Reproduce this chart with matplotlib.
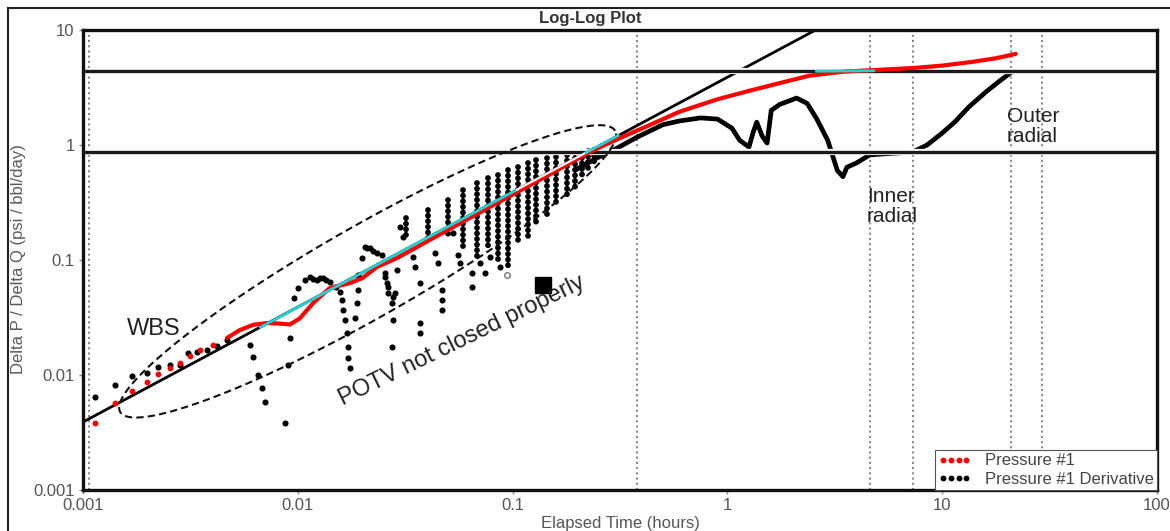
import matplotlib
matplotlib.use("Agg")
import matplotlib.pyplot as plt
import matplotlib.patheffects as pe
from matplotlib.lines import Line2D
import numpy as np

plt.rcParams['font.family'] = ['Liberation Sans', 'DejaVu Sans']

# ---------------- data ----------------
x_ticks = [0.001, 0.01, 0.1, 1, 10, 100]
x_tick_labels = ["0.001", "0.01", "0.1", "1", "10", "100"]
y_ticks = [0.001, 0.01, 0.1, 1, 10]
y_tick_labels = ["0.001", "0.01", "0.1", "1", "10"]

# Pressure #1 (red)
red_x = [0.00114, 0.00141, 0.00169, 0.00199, 0.00223, 0.00254, 0.00283, 0.00315, 0.00351, 0.00402,
         0.00468, 0.00538, 0.0062, 0.0072, 0.0082, 0.0092, 0.0102, 0.0118, 0.0141, 0.0175,
         0.020, 0.0234, 0.029, 0.04, 0.06, 0.1, 0.15, 0.229, 0.3, 0.42,
         0.6, 0.9, 1.3, 1.75, 2.4, 3.5, 5.0, 7.3, 10, 14, 18, 22]
red_y = [0.0038, 0.0057, 0.0073, 0.0087, 0.0102, 0.0115, 0.0127, 0.0145, 0.0165, 0.0182,
         0.021, 0.0246, 0.0273, 0.0283, 0.0280, 0.0275, 0.031, 0.0423, 0.0571, 0.063,
         0.0697, 0.087, 0.104, 0.145, 0.22, 0.37, 0.56, 0.87, 1.1, 1.45,
         1.95, 2.5, 3.0, 3.45, 4.0, 4.35, 4.5, 4.67, 4.9, 5.3, 5.7, 6.2]

# Pressure #1 Derivative - scattered early points
dpt_x = [0.00114, 0.00141, 0.00169, 0.00199, 0.00223, 0.00254, 0.00283, 0.00308, 0.0034, 0.00378,
         0.0042, 0.00468, 0.00599, 0.00619, 0.00653, 0.00681, 0.00703, 0.00872, 0.0090, 0.0092,
         0.0096, 0.0100, 0.0108, 0.0114, 0.0118, 0.0123, 0.0127, 0.0131, 0.0136, 0.0141,
         0.0150, 0.0157, 0.0161, 0.0162, 0.0166, 0.0169, 0.0171, 0.0171, 0.0175, 0.0191,
         0.0191, 0.0189, 0.0185, 0.0199, 0.0206, 0.0211, 0.0217, 0.0225, 0.0234, 0.0247,
         0.0255, 0.0260, 0.0263, 0.0274, 0.0277, 0.0274, 0.0255, 0.0263, 0.0277, 0.0290,
         0.0283, 0.0299, 0.0309, 0.0344, 0.0351, 0.0371, 0.0371, 0.0371, 0.0435, 0.0450,
         0.0469, 0.0469, 0.0469, 0.0528, 0.0557, 0.0569, 0.0647, 0.0647, 0.0705, 0.0744,
         0.0785, 0.0874]
dpt_y = [0.0064, 0.0082, 0.0098, 0.0104, 0.0117, 0.0122, 0.0122, 0.0155, 0.016, 0.0165,
         0.018, 0.0201, 0.0182, 0.0143, 0.0100, 0.0077, 0.0058, 0.0038, 0.0122, 0.021,
         0.047, 0.0571, 0.067, 0.0711, 0.069, 0.067, 0.070, 0.0697, 0.067, 0.0644,
         0.058, 0.0527, 0.0449, 0.0367, 0.0301, 0.0232, 0.0175, 0.0141, 0.0115, 0.074,
         0.0548, 0.0423, 0.0313, 0.104, 0.130, 0.128, 0.127, 0.12, 0.115, 0.110,
         0.077, 0.063, 0.0516, 0.0423, 0.0301, 0.0175, 0.071, 0.058, 0.048, 0.082,
         0.0516, 0.194, 0.158, 0.106, 0.087, 0.063, 0.0283, 0.0232, 0.115, 0.094,
         0.0548, 0.0449, 0.0367, 0.172, 0.110, 0.094, 0.077, 0.058, 0.094, 0.077,
         0.106, 0.087]

# Derivative - oscillation streaks (x, top, bottom)
streak_x = [0.032, 0.0405, 0.0502, 0.0590, 0.0681, 0.0771, 0.0858, 0.0955, 0.106, 0.118,
            0.129, 0.144, 0.160, 0.179, 0.195, 0.21, 0.225, 0.24]
streak_top = [0.23, 0.272, 0.332, 0.406, 0.465, 0.513, 0.548, 0.606, 0.648, 0.693,
              0.741, 0.766, 0.791, 0.818, 0.847, 0.87, 0.88, 0.9]
streak_bot = [0.15, 0.149, 0.160, 0.122, 0.107, 0.122, 0.100, 0.082, 0.149, 0.160,
              0.208, 0.238, 0.291, 0.355, 0.434, 0.5, 0.6, 0.7]

# Derivative - continuous late part
dcont_x = [0.2, 0.25, 0.3, 0.38, 0.5, 0.6, 0.75, 0.9, 1.05, 1.14,
           1.26, 1.32, 1.37, 1.45, 1.53, 1.6, 1.75, 2.1, 2.35, 2.6,
           2.93, 3.25, 3.45, 3.6, 4.0, 4.6, 5.5, 7.3, 8.5, 10,
           11.5, 13.3, 16, 18.5, 21]
dcont_y = [0.62, 0.78, 0.92, 1.17, 1.5, 1.62, 1.72, 1.68, 1.4, 1.1,
           0.96, 1.3, 1.58, 1.2, 1.04, 2.0, 2.25, 2.56, 2.3, 1.7,
           1.1, 0.6, 0.53, 0.64, 0.70, 0.82, 0.84, 0.87, 1.0, 1.27,
           1.6, 2.14, 2.9, 3.6, 4.3]

# unit-slope (WBS) line and fitted overlays
wbs_x = [0.001, 2.6]
wbs_y = [0.0039, 10.1]
cyan1_x = [0.0067, 0.105]
cyan1_y = [0.026, 0.41]
white_x = [0.105, 0.22]
white_y = [0.41, 0.86]
cyan2_x = [0.22, 0.31]
cyan2_y = [0.86, 1.21]
cyan3_x = [2.6, 4.8]
cyan3_y = [4.38, 4.42]

hline_y = [4.4, 0.875]
vline_x = [0.00107, 0.38, 4.6, 7.3, 21, 29]

square_pt = (0.139, 0.0606)
open_pt = (0.094, 0.074)

# ellipse tips (data) and half-width (px)
ell_left = (0.00149, 0.00477)
ell_right = (0.30, 1.33)
ell_half_width_px = 46

# ---------------- figure ----------------
W, H = 1170, 531
fig = plt.figure(figsize=(W / 100, H / 100), dpi=100)
ax = fig.add_axes([83 / W, 41 / H, 1074 / W, 460 / H])
ax.set_xscale('log')
ax.set_yscale('log')
ax.set_xlim(0.001, 100)
ax.set_ylim(0.001, 10)

for v in vline_x:
    ax.axvline(v, color='#8a8a8a', lw=1.5, ls=(0, (1, 1.5)), zorder=1)

# WBS line
ax.plot(wbs_x, wbs_y, color='black', lw=2.0, zorder=3, solid_capstyle='butt')

# derivative streaks
for sx, st, sb in zip(streak_x, streak_top, streak_bot):
    ax.plot([sx, sx], [st, sb], color='black', lw=4.2, ls=(0, (0.01, 0.95)),
            dash_capstyle='round', zorder=3)
ax.plot(dpt_x, dpt_y, 'o', color='black', ms=4.4, mew=0, zorder=3)
ax.plot(dcont_x, dcont_y, color='black', lw=3.4, zorder=3, solid_joinstyle='round')

ax.plot(*square_pt, 's', color='black', ms=12, zorder=3)
ax.plot(*open_pt, 'o', mfc='white', mec='#777777', ms=4, mew=1, zorder=3)

# horizontal lines with white halo
for h in hline_y:
    ax.axhline(h, color='#1a1a1a', lw=2.4, zorder=4,
               path_effects=[pe.Stroke(linewidth=4.5, foreground='white'), pe.Normal()])

# red pressure
red_x_a = np.array(red_x)
red_y_a = np.array(red_y)
early = red_x_a < 0.0045
ax.plot(red_x_a[early], red_y_a[early], 'o', color='#ff0000', ms=4.2, mew=0, zorder=6)
ax.plot(red_x_a[~early], red_y_a[~early], '-', color='#ff0000', lw=3.0, zorder=6,
        solid_capstyle='round')

# overlays
ax.plot(cyan1_x, cyan1_y, color='#22d3d3', lw=2.0, zorder=7)
ax.plot(white_x, white_y, color='#f4f4f4', lw=1.6, zorder=7)
ax.plot(cyan2_x, cyan2_y, color='#22d3d3', lw=2.0, zorder=7)
ax.plot(cyan3_x, cyan3_y, color='#22d3d3', lw=2.0, zorder=7)

# dashed ellipse
p1 = ax.transData.transform(ell_left)
p2 = ax.transData.transform(ell_right)
c = (p1 + p2) / 2
d = p2 - p1
a = np.hypot(*d) / 2
u = d / np.hypot(*d)
vperp = np.array([-u[1], u[0]])
t = np.linspace(0, 2 * np.pi, 400)
pts = c + np.outer(a * np.cos(t), u) + np.outer(ell_half_width_px * np.sin(t), vperp)
dpts = ax.transData.inverted().transform(pts)
ax.plot(dpts[:, 0], dpts[:, 1], color='#111111', lw=1.5, ls=(0, (3.5, 2)), zorder=5)

# axes styling
ax.set_xticks(x_ticks)
ax.set_xticklabels(x_tick_labels)
ax.set_yticks(y_ticks)
ax.set_yticklabels(y_tick_labels)
ax.xaxis.set_minor_locator(matplotlib.ticker.NullLocator())
ax.yaxis.set_minor_locator(matplotlib.ticker.NullLocator())
ax.tick_params(direction='out', length=3, width=1, color='#888888',
               labelcolor='#555555', labelsize=12, pad=3)
for s in ax.spines.values():
    s.set_linewidth(2.4)
    s.set_color('#111111')
    s.set_zorder(8)

# annotations
ax.text(0.0016, 0.0223, "WBS", fontsize=17, color='#222222', ha='left', va='baseline', zorder=9)
ax.text(0.0162, 0.0054, "POTV not closed properly", fontsize=17, color='#222222',
        rotation=26, rotation_mode='anchor', ha='left', va='baseline', zorder=9)
ax.text(4.45, 0.43, "Inner\nradial", fontsize=15, color='#222222', ha='left', va='top',
        linespacing=1.05, zorder=9)
ax.text(20.0, 2.15, "Outer\nradial", fontsize=15, color='#222222', ha='left', va='top',
        linespacing=1.05, zorder=9)

# legend
handles = [Line2D([], [], ls='none', marker='o', color='#ff0000', ms=4.2, mew=0),
           Line2D([], [], ls='none', marker='o', color='black', ms=4.2, mew=0)]
leg = ax.legend(handles, ["Pressure #1", "Pressure #1 Derivative"], loc='lower right',
                bbox_to_anchor=(1, 0), borderaxespad=0, numpoints=4, handlelength=2.0,
                handletextpad=0.8, fontsize=12, frameon=True, fancybox=False,
                framealpha=1, edgecolor='#555555', borderpad=0.2, labelspacing=0.2)
leg.get_frame().set_linewidth(0.8)
leg.set_zorder(10)
for txt in leg.get_texts():
    txt.set_color('#444444')

# labels / title
fig.text(590 / W, 1 - 18 / H, "Log-Log Plot", fontsize=12, fontweight='bold',
         color='#333333', ha='center', va='center')
fig.text(19 / W, 1 - 259 / H, "Delta P / Delta Q (psi / bbl/day)", fontsize=12,
         color='#5a5a5a', rotation=90, ha='center', va='center')
fig.text(620 / W, 1 - 528 / H, "Elapsed Time (hours)", fontsize=12, color='#555555',
         ha='center', va='baseline')

# outer frame (left and top)
fig.add_artist(Line2D([8 / W, 8 / W], [0, 1 - 8 / H], transform=fig.transFigure,
                      color='#222222', lw=1.5))
fig.add_artist(Line2D([8 / W, 1], [1 - 8 / H, 1 - 8 / H], transform=fig.transFigure,
                      color='#222222', lw=1.5))

fig.savefig("out.png", dpi=100)
